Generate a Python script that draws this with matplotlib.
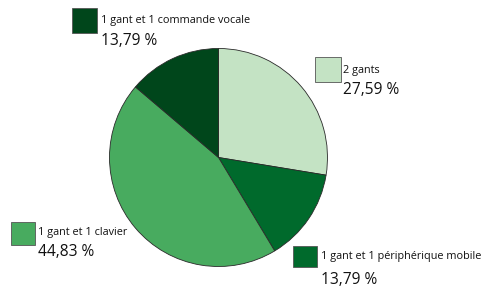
import matplotlib
matplotlib.use("Agg")
import matplotlib.pyplot as plt
from matplotlib.patches import Rectangle

categories = ["2 gants", "1 gant et 1 périphérique mobile", "1 gant et 1 clavier", "1 gant et 1 commande vocale"]
values = [27.59, 13.79, 44.83, 13.79]
labels_pct = ["27,59 %", "13,79 %", "44,83 %", "13,79 %"]
colors = ["#c4e3c4", "#006a2c", "#48ab5f", "#00461b"]

W, H = 488, 291
fig = plt.figure(figsize=(W / 100, H / 100), dpi=100)
fig.patch.set_facecolor("white")
plt.rcParams['font.family'] = ['Open Sans', 'DejaVu Sans']

cx, cy, r = 218.5, 157.5, 109
ax = fig.add_axes([(cx - r) / W, (H - cy - r) / H, 2 * r / W, 2 * r / H])
ax.pie(values, colors=colors, startangle=90, counterclock=False,
       wedgeprops=dict(edgecolor="#2a2a2a", linewidth=0.6))
ax.set_xlim(-1, 1)
ax.set_ylim(-1, 1)
ax.set_aspect("auto")
ax.axis("off")

# legend positions in pixel coords: (box x0, box y0, box x1, box y1, text x, label y, pct y)
legend_pos = [
    (315, 57, 341, 82, 343, 70, 90),
    (293, 246, 317, 267, 321, 257, 280),
    (11, 222, 35, 245, 38, 233, 252),
    (72, 8, 97, 33, 101, 21, 41),
]

for i, (bx0, by0, bx1, by1, tx, ly, py) in enumerate(legend_pos):
    fig.patches.append(Rectangle((bx0 / W, 1 - by1 / H), (bx1 - bx0) / W, (by1 - by0) / H,
                                 transform=fig.transFigure, facecolor=colors[i],
                                 edgecolor="#555555", linewidth=0.6))
    fig.text(tx / W, 1 - ly / H, categories[i], fontsize=7.8, ha="left", va="center",
             color="#111111")
    fig.text(tx / W, 1 - py / H, labels_pct[i], fontsize=11.2, ha="left", va="center",
             color="#111111")

fig.savefig("out.png", dpi=100, facecolor="white")
